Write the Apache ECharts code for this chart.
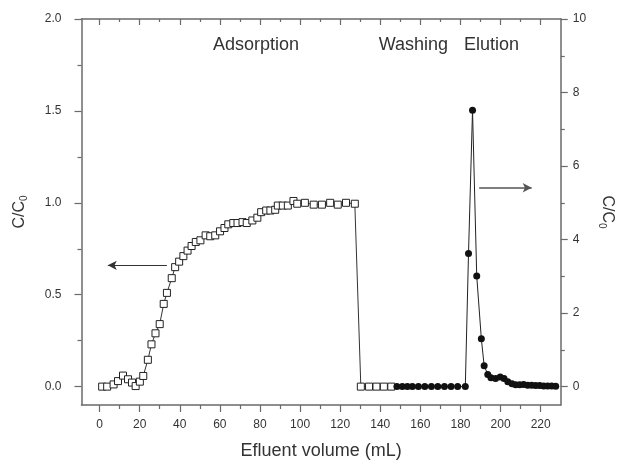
<!DOCTYPE html>
<html><head><meta charset="utf-8">
<script src="https://cdn.jsdelivr.net/npm/echarts@6/dist/echarts.min.js"></script>
<style>html,body{margin:0;padding:0;background:#fff}#c{width:623px;height:465px}</style>
</head><body><div id="c"></div>
<script>
// Adsorption + washing (open squares, left axis)
const adsX = [1.3,3.8,7.0,9.2,11.7,14.2,16.2,18.0,20.1,21.8,24.1,25.9,27.9,30.0,32.0,33.6,36.0,37.7,39.7,41.8,43.9,45.9,48.0,50.3,52.9,55.2,57.7,60.1,62.3,64.2,66.7,68.8,71.3,73.4,76.2,78.7,80.6,83.1,85.2,87.6,88.9,91.4,93.9,96.7,98.6,102.4,106.8,110.9,115.0,118.8,122.9,127.3,130.3,134.4,138.1,141.8,145.5];
const adsY = [0,0,0.012,0.03,0.06,0.04,0.022,0.003,0.027,0.058,0.146,0.23,0.29,0.34,0.45,0.51,0.59,0.65,0.68,0.71,0.74,0.765,0.787,0.796,0.823,0.818,0.823,0.845,0.863,0.883,0.89,0.89,0.895,0.89,0.904,0.919,0.949,0.958,0.958,0.962,0.985,0.985,0.985,1.01,0.995,1.0,0.99,0.99,1.0,0.99,1.0,0.995,0,0,0,0,0];
// Washing + elution (filled circles, right axis)
const eluX = [148.3,151.0,153.5,156.0,159.0,162.2,165.5,168.7,172.0,175.3,178.6,182.4,184.0,186.0,188.1,190.4,191.8,193.6,195.2,197.5,199.8,201.7,203.6,205.7,207.5,209.5,211.5,213.5,215.5,217.5,219.5,221.5,223.5,225.5,227.5];
const eluY = [0,0,0,0,0,0,0,0,0,0,0,0,3.62,7.52,3.01,1.3,0.57,0.33,0.24,0.22,0.26,0.22,0.13,0.08,0.05,0.05,0.06,0.04,0.04,0.03,0.03,0.02,0.02,0.02,0.01];

const xMajor = [0,20,40,60,80,100,120,140,160,180,200,220];
const xMinor = [10,30,50,70,90,110,130,150,170,190,210];
const yLeftMajor = [0,0.5,1.0,1.5,2.0];
const yLeftMinor = [0.25,0.75,1.25,1.75];
const yRightMajor = [0,2,4,6,8,10];
const yRightMinor = [1,3,5,7,9];

const stageNames = ['Adsorption','Washing','Elution'];
const stageX = [78,156.5,195.5];
const stageY = 1.86;
const leftArrow = [[33.6,0.66],[4.1,0.66]];
const rightArrow = [[189.3,5.41],[215.5,5.41]];

const FONT = 'Liberation Sans, Arial, sans-serif';
const AXC = '#6a6a6a';
const X_MIN = -9, X_MAX = 230;

function xAx(pos, values, len, inside, showLine, showLabel){
  return {type:'value', position:pos, min:X_MIN, max:X_MAX,
    axisLine:{show:showLine, onZero:false, lineStyle:{color:AXC,width:1.5}},
    axisTick:{show:true, inside:inside, length:len, customValues:values, lineStyle:{color:AXC,width:1.2}},
    axisLabel:{show:showLabel, customValues:values, margin:14, color:'#333', fontSize:12, fontFamily:FONT},
    splitLine:{show:false}};
}
function yAx(pos, min, max, values, len, showLine, showLabel, fmt){
  return {type:'value', position:pos, min:min, max:max,
    axisLine:{show:showLine, onZero:false, lineStyle:{color:AXC,width:1.5}},
    axisTick:{show:true, length:len, customValues:values, lineStyle:{color:AXC,width:1.2}},
    axisLabel:{show:showLabel, customValues:values, margin: pos==='left'?20:12, color:'#333', fontSize:12, fontFamily:FONT, formatter:fmt},
    splitLine:{show:false}};
}

const xAxes = [
  Object.assign(xAx('bottom', xMajor, 7, false, true, true), {
    name:'Efluent volume (mL)', nameLocation:'middle', nameGap:37,
    nameTextStyle:{fontSize:18, color:'#333', fontFamily:FONT}}),
  xAx('bottom', xMinor, 4, false, false, false),
  xAx('top', xMajor, 6, true, true, false),
  xAx('top', xMinor, 3, true, false, false)
];
const subRich = {a:{fontSize:16, color:'#333', fontFamily:FONT}, s:{fontSize:10, color:'#333', fontFamily:FONT, padding:[10,0,0,0]}};
const yAxes = [
  Object.assign(yAx('left', -0.1, 2.0, yLeftMajor, 7, true, true, v => v.toFixed(1)), {
    name:'{a|C/C}{s|0}', nameLocation:'middle', nameGap:52, nameRotate:90,
    nameTextStyle:{rich:subRich}}),
  yAx('left', -0.1, 2.0, yLeftMinor, 4, false, false),
  Object.assign(yAx('right', -0.5, 10, yRightMajor, 7, true, true, v => String(v)), {
    name:'{a|C/C}{s|0}', nameLocation:'middle', nameGap:30, nameRotate:-90,
    nameTextStyle:{rich:subRich}}),
  yAx('right', -0.5, 10, yRightMinor, 4, false, false)
];

const chart = echarts.init(document.getElementById('c'), null, {renderer:'canvas'});
chart.setOption({
  animation:false,
  backgroundColor:'#fff',
  grid:{left:81.5, right:56, top:19, bottom:58, containLabel:false},
  xAxis:xAxes,
  yAxis:yAxes,
  series:[
    {type:'line', xAxisIndex:0, yAxisIndex:0,
     data: adsX.map((x,i)=>[x, adsY[i]]),
     symbol:'rect', symbolSize:7,
     itemStyle:{color:'#fff', borderColor:'#222', borderWidth:1},
     lineStyle:{color:'#333', width:1},
     markLine:{silent:true, symbol:['none','arrow'], symbolSize:[7,9], label:{show:false},
       lineStyle:{color:'#333', width:1, type:'solid'},
       data:[[{coord:leftArrow[0]},{coord:leftArrow[1]}]]},
     markPoint:{silent:true, symbol:'circle', symbolSize:0,
       label:{show:true, position:'inside', formatter:'{b}', fontSize:18, color:'#333', fontFamily:FONT},
       data: stageNames.map((n,i)=>({name:n, coord:[stageX[i], stageY]}))}
    },
    {type:'line', xAxisIndex:0, yAxisIndex:2,
     data: eluX.map((x,i)=>[x, eluY[i]]),
     symbol:'circle', symbolSize:7,
     itemStyle:{color:'#111', borderColor:'#111', borderWidth:0},
     lineStyle:{color:'#222', width:1},
     markLine:{silent:true, symbol:['none','arrow'], symbolSize:[7,9], label:{show:false},
       lineStyle:{color:'#555', width:1.5, type:'solid'},
       data:[[{coord:rightArrow[0]},{coord:rightArrow[1]}]]}
    }
  ]
});
</script>
</body></html>
